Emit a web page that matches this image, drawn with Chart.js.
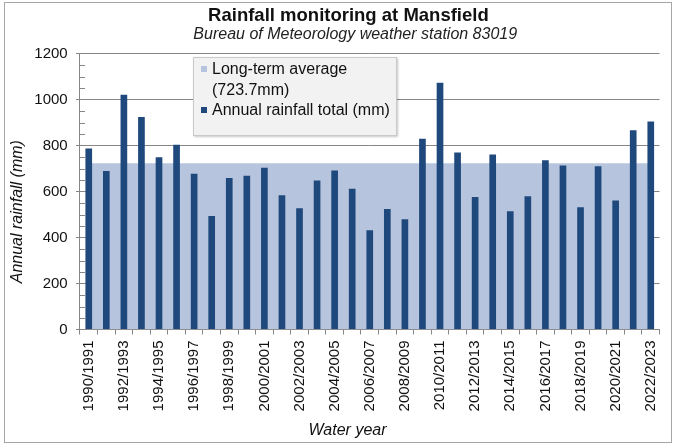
<!DOCTYPE html>
<html>
<head>
<meta charset="utf-8">
<script src="https://cdn.jsdelivr.net/npm/chart.js@4.4.1/dist/chart.umd.min.js"></script>
<style>
html,body{margin:0;padding:0;background:#fff;overflow:hidden;width:675px;height:445px;}
#wrap{position:relative;width:675px;height:445px;}
#frame{position:absolute;left:4px;top:2px;width:666px;height:439px;border:1px solid #a6a6a6;pointer-events:none;}
canvas{position:absolute;left:0;top:0;}
#legend{position:absolute;left:193px;top:57px;width:204px;height:79px;box-sizing:border-box;background:#f2f2f2;border:1px solid #c9c9c9;box-shadow:1px 1px 2px rgba(0,0,0,0.22);font-family:"Liberation Sans",Arial,sans-serif;font-size:16px;color:#111;padding:1px 4px 0 7px;}
.item{display:flex;align-items:flex-start;line-height:20.5px;}
.sw{width:6px;height:6px;margin:7px 5px 0 0;flex:none;}
.txt{max-width:182px;}
</style>
</head>
<body>
<div id="wrap">
  <canvas id="c" width="675" height="445"></canvas>
  <div id="legend"></div>
  <div id="frame"></div>
</div>
<script>
// ---- data ----
const categories = [
  "1990/1991","1991/1992","1992/1993","1993/1994","1994/1995","1995/1996","1996/1997",
  "1997/1998","1998/1999","1999/2000","2000/2001","2001/2002","2002/2003","2003/2004",
  "2004/2005","2005/2006","2006/2007","2007/2008","2008/2009","2009/2010","2010/2011",
  "2011/2012","2012/2013","2013/2014","2014/2015","2015/2016","2016/2017","2017/2018",
  "2018/2019","2019/2020","2020/2021","2021/2022","2022/2023"
];
const annualRainfall = [
  788, 690, 1022, 925, 750, 804, 678, 494, 659, 669, 704, 584, 528, 649, 692, 613,
  432, 525, 480, 830, 1074, 771, 577, 762, 515, 580, 737, 714, 532, 711, 562, 867, 906
];
const longTermAverage = 723.7;
const averageSeries = categories.map(() => longTermAverage);
const yMin = 0, yMax = 1200, yMajorStep = 200, yMinorStep = 50;

const titleText = "Rainfall monitoring at Mansfield";
const subtitleText = "Bureau of Meteorology weather station 83019";
const yTitle = "Annual rainfall (mm)";
const xTitle = "Water year";
const averageLabel = "Long-term average (" + longTermAverage + "mm)";
const rainfallLabel = "Annual rainfall total (mm)";

// ---- style ----
const FONT = '"Liberation Sans", Arial, sans-serif';
const BAR = '#1f497d';
const BAND = '#b6c4de';
const AXIS = '#868686';
const TEXT = '#111111';

const minorTicks = {
  id: 'minorTicks',
  afterDatasetsDraw(chart) {
    const y = chart.scales.y, ctx = chart.ctx, left = chart.chartArea.left;
    ctx.save();
    ctx.strokeStyle = AXIS; ctx.lineWidth = 1;
    for (let v = yMin; v <= yMax; v += yMinorStep) {
      if (v % yMajorStep === 0) continue;
      const py = Math.round(y.getPixelForValue(v)) + 0.5;
      ctx.beginPath(); ctx.moveTo(left, py); ctx.lineTo(left + 5, py); ctx.stroke();
    }
    ctx.restore();
  }
};

new Chart(document.getElementById('c'), {
  data: {
    labels: categories,
    datasets: [
      {
        type: 'bar', label: rainfallLabel, data: annualRainfall,
        backgroundColor: BAR, borderWidth: 0,
        barPercentage: 0.38, categoryPercentage: 1, order: 1
      },
      {
        type: 'line', label: averageLabel, data: averageSeries,
        borderWidth: 0, borderColor: 'rgba(0,0,0,0)', backgroundColor: BAND,
        fill: 'origin', pointRadius: 0, tension: 0, order: 2
      }
    ]
  },
  options: {
    responsive: false,
    animation: false,
    layout: { padding: { left: 6, right: 15, top: 6, bottom: 4.4 } },
    plugins: {
      legend: { display: false },
      tooltip: { enabled: false },
      title: {
        display: true, text: '      ' + titleText, color: TEXT,
        font: { family: FONT, size: 18.5, weight: 'bold', lineHeight: 1.1 },
        padding: { top: 0, bottom: 0 }
      },
      subtitle: {
        display: true, text: '          ' + subtitleText, color: '#222',
        font: { family: FONT, size: 16, style: 'italic', lineHeight: 1.0 },
        padding: { top: 0, bottom: 11.5 }
      }
    },
    scales: {
      x: {
        offset: true,
        grid: { display: true, offset: true, drawOnChartArea: false, drawTicks: true, tickLength: 5, color: AXIS },
        border: { display: true, color: AXIS },
        ticks: {
          autoSkip: false, minRotation: 90, maxRotation: 90, padding: 6, color: TEXT,
          font: { family: FONT, size: 15 },
          callback: function (v, i) { return i % 2 === 0 ? this.getLabelForValue(v) : ''; }
        },
        title: {
          display: true, text: xTitle + '          ', color: TEXT,
          font: { family: FONT, size: 16, style: 'italic', lineHeight: 1.2 },
          padding: { top: 4, bottom: 0 }
        }
      },
      y: {
        min: yMin, max: yMax,
        grid: { color: AXIS, drawTicks: true, tickLength: 4 },
        border: { display: true, color: AXIS },
        ticks: {
          stepSize: yMajorStep, padding: 8.3, color: TEXT, font: { family: FONT, size: 15 },
          callback: v => String(v)
        },
        title: {
          display: true, text: yTitle + '         ', color: TEXT,
          font: { family: FONT, size: 16, style: 'italic', lineHeight: 1.0 },
          padding: { top: 4, bottom: 0 }
        }
      }
    }
  },
  plugins: [minorTicks]
});

// ---- legend (HTML) ----
const legendItems = [
  { label: averageLabel, color: BAND },
  { label: rainfallLabel, color: BAR }
];
const legend = document.getElementById('legend');
legendItems.forEach(it => {
  const row = document.createElement('div'); row.className = 'item';
  const sw = document.createElement('span'); sw.className = 'sw'; sw.style.background = it.color;
  const tx = document.createElement('span'); tx.className = 'txt'; tx.textContent = it.label;
  row.appendChild(sw); row.appendChild(tx); legend.appendChild(row);
});
</script>
</body>
</html>
